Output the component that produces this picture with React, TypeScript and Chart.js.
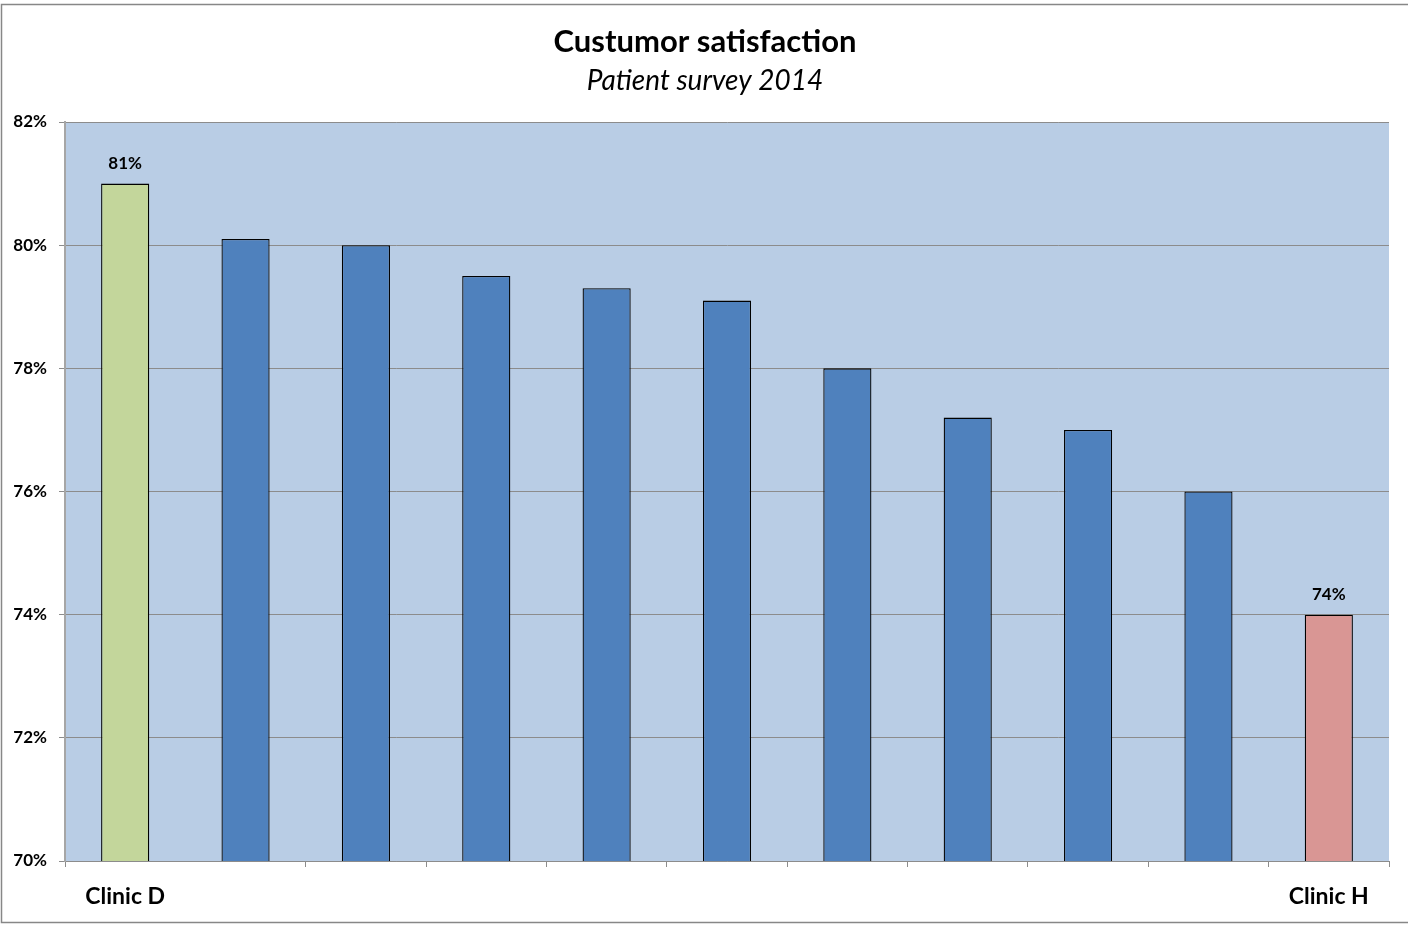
import React, { useEffect, useRef } from "react";
import { Chart, registerables } from "chart.js";

Chart.register(...registerables);

const titleText = "Custumor satisfaction";
const subtitleText = "Patient survey 2014";
const categories = ["Clinic D", "", "", "", "", "", "", "", "", "", "Clinic H"];
const satisfaction = [81.0, 80.1, 80.0, 79.5, 79.3, 79.1, 78.0, 77.2, 77.0, 76.0, 74.0];
const barColors = [
  "#c3d69b", "#4f81bd", "#4f81bd", "#4f81bd", "#4f81bd", "#4f81bd",
  "#4f81bd", "#4f81bd", "#4f81bd", "#4f81bd", "#d99694",
];
const labelledBars = [0, 10];
const yTicks = [70, 72, 74, 76, 78, 80, 82];

const FONT = "Lato, 'Open Sans', sans-serif";

const decorPlugin = {
  id: "decor",
  beforeDraw(chart: any) {
    const { ctx, chartArea } = chart;
    ctx.save();
    ctx.fillStyle = "#ffffff";
    ctx.fillRect(0, 0, chart.width, chart.height);
    ctx.strokeStyle = "#878787";
    ctx.lineWidth = 1.5;
    ctx.strokeRect(1.5, 4.5, chart.width + 10, 918);
    ctx.fillStyle = "#b9cde5";
    ctx.fillRect(chartArea.left, chartArea.top, chartArea.right - chartArea.left, chartArea.bottom - chartArea.top);
    ctx.restore();
  },
  afterDraw(chart: any) {
    const { ctx } = chart;
    ctx.save();
    ctx.fillStyle = "#000000";
    ctx.textAlign = "center";
    ctx.textBaseline = "middle";
    ctx.font = `bold 31px ${FONT}`;
    ctx.fillText(titleText, 705, 42);
    ctx.font = `italic 28px ${FONT}`;
    ctx.fillText(subtitleText, 705, 81);
    // data labels
    const meta = chart.getDatasetMeta(0);
    ctx.font = `bold 17px ${FONT}`;
    labelledBars.forEach((i) => {
      const el = meta.data[i];
      if (!el) return;
      ctx.fillText(Math.round(satisfaction[i]) + "%", el.x, el.y - 20);
    });
    ctx.restore();
  },
};

export default function App() {
  const ref = useRef<HTMLCanvasElement>(null);
  useEffect(() => {
    if (!ref.current) return;
    const chart = new Chart(ref.current, {
      type: "bar",
      data: {
        labels: categories,
        datasets: [
          {
            data: satisfaction,
            backgroundColor: barColors,
            borderColor: "#000000",
            borderWidth: 1.3,
            barPercentage: 0.4,
            categoryPercentage: 1,
          },
        ],
      },
      plugins: [decorPlugin],
      options: {
        responsive: false,
        animation: false,
        layout: { padding: { top: 122, right: 19, left: 0, bottom: 0 } },
        plugins: {
          legend: { display: false },
          title: { display: false },
          tooltip: { enabled: false },
        },
        scales: {
          x: {
            offset: true,
            grid: {
              display: true,
              offset: true,
              drawOnChartArea: false,
              drawTicks: true,
              tickLength: 6,
              color: (c: any) => (c.index === 1 ? "rgba(0,0,0,0)" : "#8c8c8c"),
            },
            border: { display: true, color: "#8c8c8c", width: 1 },
            ticks: {
              autoSkip: false,
              maxRotation: 0,
              padding: 16,
              color: "#000000",
              font: { family: FONT, size: 23, weight: "bold" },
            },
            afterFit(scale: any) {
              scale.height = 64;
            },
          },
          y: {
            min: 70,
            max: 82,
            afterBuildTicks(scale: any) {
              scale.ticks = yTicks.map((v) => ({ value: v }));
            },
            grid: {
              color: "#8c8c8c",
              drawTicks: true,
              tickLength: 6,
            },
            border: { display: true, color: "#a6a6a6", width: 2 },
            ticks: {
              padding: 12,
              color: "#000000",
              font: { family: FONT, size: 17, weight: "bold" },
              callback: (v: any) => v + "%",
            },
            afterFit(scale: any) {
              scale.width = 65;
            },
          },
        },
      },
    } as any);
    return () => chart.destroy();
  }, []);
  return (
    <div style={{ position: "fixed", left: 0, top: 0, width: 1408, height: 925 }}>
      <canvas ref={ref} width={1408} height={925} style={{ width: 1408, height: 925 }} />
    </div>
  );
}
